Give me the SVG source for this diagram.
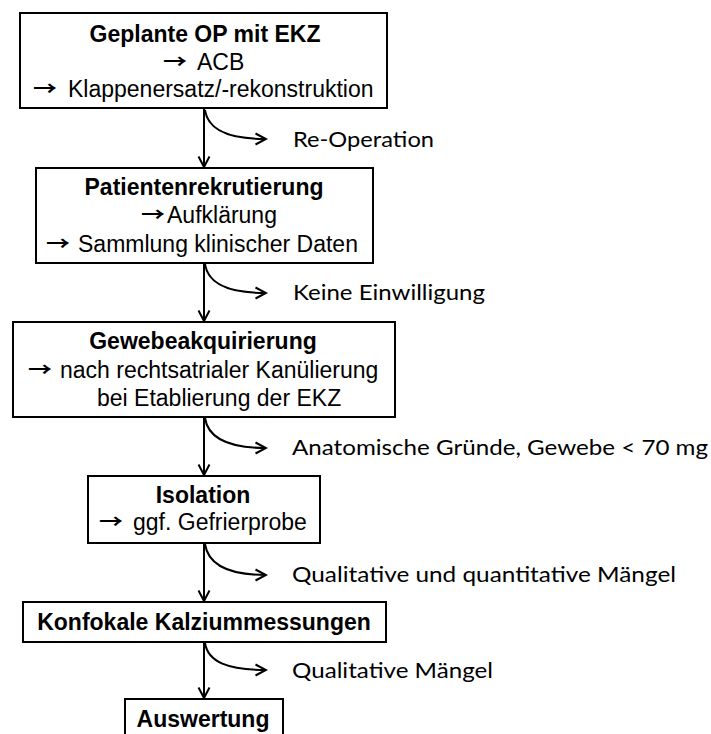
<svg xmlns="http://www.w3.org/2000/svg" width="711" height="734" viewBox="0 0 711 734">
<style>
.box{fill:#fff;stroke:#000;stroke-width:2}
.t{font-family:"Liberation Sans",Arial,sans-serif;font-size:23px;fill:#000}
.b{font-weight:bold}
.c{text-anchor:middle}
.ar{font-family:"Noto Sans CJK SC","DejaVu Sans",sans-serif;font-size:19px;font-weight:bold;fill:#000}
.lbl{font-family:Lato,"Open Sans",sans-serif;font-size:22px;fill:#000}
.ln{fill:none;stroke:#000;stroke-width:2}
</style>
<defs>
<marker id="arr" markerWidth="14" markerHeight="14" refX="12" refY="7" orient="auto" markerUnits="userSpaceOnUse" viewBox="0 0 14 14">
<path d="M1.5,1.5 L12,7 L1.5,12.5" fill="none" stroke="#000" stroke-width="2"/>
</marker>
</defs>
<rect width="711" height="734" fill="#fff"/>
<g id="connectors">
<path class="ln" d="M204,109 L204,167" marker-end="url(#arr)"/>
<path class="ln" d="M204,264 L204,321" marker-end="url(#arr)"/>
<path class="ln" d="M204,418 L204,475" marker-end="url(#arr)"/>
<path class="ln" d="M204,544 L204,601" marker-end="url(#arr)"/>
<path class="ln" d="M204,643 L204,698" marker-end="url(#arr)"/>
<path class="ln" d="M205,110 C208,130 228,139 266,139" marker-end="url(#arr)"/>
<path class="ln" d="M205,264 C208,284 228,293 266,293" marker-end="url(#arr)"/>
<path class="ln" d="M205,418 C208,438 228,448 266,448" marker-end="url(#arr)"/>
<path class="ln" d="M205,544 C208,564 228,575 266,575" marker-end="url(#arr)"/>
<path class="ln" d="M205,643 C208,662 228,670 266,670" marker-end="url(#arr)"/>
<text class="lbl" x="293" y="147" textLength="141" lengthAdjust="spacingAndGlyphs">Re-Operation</text>
<text class="lbl" x="293" y="300" textLength="192" lengthAdjust="spacingAndGlyphs">Keine Einwilligung</text>
<text class="lbl" x="292" y="455" textLength="416" lengthAdjust="spacingAndGlyphs">Anatomische Gründe, Gewebe &lt; 70 mg</text>
<text class="lbl" x="292" y="582" textLength="384" lengthAdjust="spacingAndGlyphs">Qualitative und quantitative Mängel</text>
<text class="lbl" x="292" y="678" textLength="201" lengthAdjust="spacingAndGlyphs">Qualitative Mängel</text>
</g>
<g id="n1">
<rect class="box" x="20" y="13" width="367" height="95"/>
<text class="t b c" x="205" y="42">Geplante OP mit EKZ</text>
<text class="ar" x="163" y="69" textLength="24" lengthAdjust="spacingAndGlyphs">→</text>
<text class="t" x="197" y="70">ACB</text>
<text class="ar" x="33" y="96" textLength="24" lengthAdjust="spacingAndGlyphs">→</text>
<text class="t" x="68" y="97">Klappenersatz/-rekonstruktion</text>
</g>
<g id="n2">
<rect class="box" x="36" y="168" width="337" height="95"/>
<text class="t b c" x="204" y="195">Patientenrekrutierung</text>
<text class="ar" x="141" y="222" textLength="24" lengthAdjust="spacingAndGlyphs">→</text>
<text class="t" x="167" y="223">Aufklärung</text>
<text class="ar" x="46" y="251" textLength="24" lengthAdjust="spacingAndGlyphs">→</text>
<text class="t" x="78" y="252">Sammlung klinischer Daten</text>
</g>
<g id="n3">
<rect class="box" x="13" y="322" width="382" height="95"/>
<text class="t b c" x="203" y="349">Gewebeakquirierung</text>
<text class="ar" x="28" y="377" textLength="24" lengthAdjust="spacingAndGlyphs">→</text>
<text class="t" x="60" y="378">nach rechtsatrialer Kanülierung</text>
<text class="t" x="97" y="406">bei Etablierung der EKZ</text>
</g>
<g id="n4">
<rect class="box" x="88" y="476" width="232" height="67"/>
<text class="t b c" x="203" y="503">Isolation</text>
<text class="ar" x="99" y="529" textLength="24" lengthAdjust="spacingAndGlyphs">→</text>
<text class="t" x="133" y="530">ggf. Gefrierprobe</text>
</g>
<g id="n5">
<rect class="box" x="23" y="602" width="363" height="40"/>
<text class="t b c" x="204" y="630">Konfokale Kalziummessungen</text>
</g>
<g id="n6">
<rect class="box" x="125" y="699" width="158" height="46"/>
<text class="t b c" x="203" y="727">Auswertung</text>
</g>
</svg>
